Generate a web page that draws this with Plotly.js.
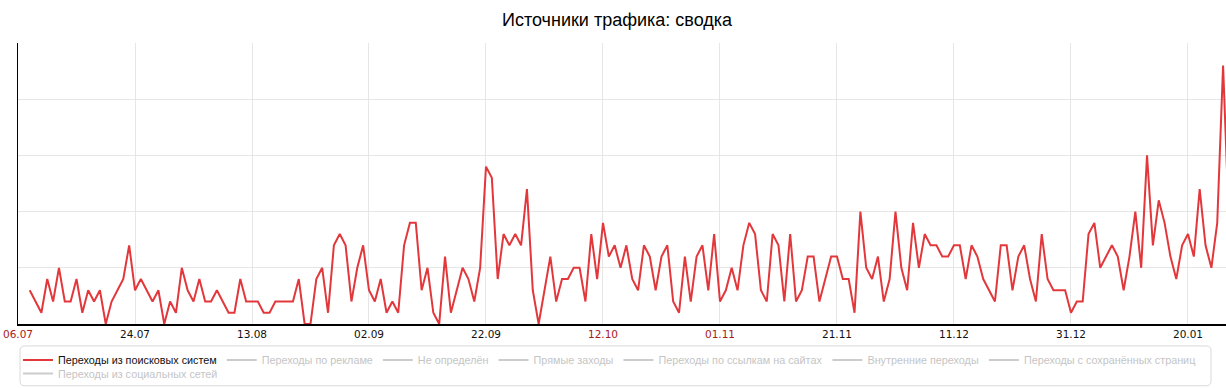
<!DOCTYPE html>
<html>
<head>
<meta charset="utf-8">
<script src="https://cdn.plot.ly/plotly-3.0.1.min.js"></script>
<style>
  html, body { margin: 0; padding: 0; background: #fff; }
  #chart { width: 1226px; height: 388px; }
</style>
</head>
<body>
<div id="chart"></div>
<script>
// ---- Data ----
const firstDay = [2014, 6, 6]; // 06.07.2014 (month is 0-based)

// Daily values of "Переходы из поисковых систем", 06.07.2014 .. 27.01.2015
const searchVisits = [
  3,2,1,4,2,5,2,2,4,1,3,2,3,0,2,3,4,7,3,4,3,2,3,0,2,1,5,3,2,4,2,2,3,2,1,
  1,4,2,2,2,1,1,2,2,2,2,4,0,0,4,5,1,7,8,7,2,5,7,3,2,4,1,2,1,7,9,9,3,5,
  1,0,6,1,3,5,4,2,5,14,13,4,8,7,8,7,12,3,0,3,6,2,4,4,5,5,2,8,4,9,6,7,5,7,
  4,3,7,6,3,6,7,2,1,6,2,6,7,3,8,2,3,5,3,7,9,8,3,2,8,7,2,8,2,3,6,6,2,
  4,6,6,4,4,1,10,5,4,6,2,4,10,5,3,9,5,8,7,7,6,6,7,7,4,7,6,4,3,2,7,7,3,6,
  7,4,2,8,4,3,3,3,1,2,2,8,9,5,6,7,6,3,6,10,5,15,7,11,9,6,4,7,8,6,12,7,5,9,23,9
];

const seriesNames = [
  'Переходы из поисковых систем',
  'Переходы по рекламе',
  'Не определён',
  'Прямые заходы',
  'Переходы по ссылкам на сайтах',
  'Внутренние переходы',
  'Переходы с сохранённых страниц',
  'Переходы из социальных сетей'
];

const tickDates  = ['2014-07-04','2014-07-24','2014-08-13','2014-09-02','2014-09-22','2014-10-12',
                    '2014-11-01','2014-11-21','2014-12-11','2014-12-31','2015-01-20'];
const tickLabels = ['06.07','24.07','13.08','02.09','22.09','12.10','01.11','21.11','11.12','31.12','20.01'];
const weekendLabels = ['06.07','12.10','01.11'];

// ---- Build ----
const W = 1226, H = 388;
const M = { l: 18, r: 0, t: 43, b: 63 };
const plotW = W - M.l - M.r, plotH = H - M.t - M.b;
const pxX = px => (px - M.l) / plotW;          // page px -> paper x
const pxY = py => (H - M.b - py) / plotH;      // page py -> paper y

const dates = searchVisits.map((_, i) => {
  const d = new Date(Date.UTC(firstDay[0], firstDay[1], firstDay[2] + i));
  return d.toISOString().slice(0, 10);
});

const tickText = tickLabels.map(t =>
  weekendLabels.includes(t) ? '<span style="color:#a8201a">' + t + '</span>' : t);

const traces = [{
  type: 'scatter',
  mode: 'lines',
  x: dates,
  y: searchVisits,
  name: '<span style="color:#111">' + seriesNames[0] + '</span>',
  line: { color: '#e2383c', width: 2 },
  legend: 'legend'
}];
// Switched-off series: shown only as greyed legend entries
seriesNames.slice(1).forEach((n, i) => {
  traces.push({
    type: 'scatter',
    mode: 'lines',
    x: [dates[0]], y: [null],
    name: '<span style="color:#8a8a8a">' + n + '</span>',
    line: { color: '#9a9a9a', width: 2 },
    visible: 'legendonly',
    legend: i === seriesNames.length - 2 ? 'legend2' : 'legend'
  });
});

const legendFont = { family: 'Liberation Sans, Arial, sans-serif', size: 10.8, color: '#111' };
const legendBase = {
  orientation: 'h',
  xanchor: 'left',
  yanchor: 'middle',
  borderwidth: 0,
  bgcolor: 'rgba(0,0,0,0)',
  font: legendFont,
  itemwidth: 30,
  tracegroupgap: 0
};

// rounded legend frame
const bx0 = 20, bx1 = 1211, by0 = 347, by1 = 387, rr = 5;
const X = v => pxX(v), Y = v => pxY(v);
const framePath =
  `M${X(bx0 + rr)},${Y(by0)} L${X(bx1 - rr)},${Y(by0)} Q${X(bx1)},${Y(by0)} ${X(bx1)},${Y(by0 + rr)} ` +
  `L${X(bx1)},${Y(by1 - rr)} Q${X(bx1)},${Y(by1)} ${X(bx1 - rr)},${Y(by1)} ` +
  `L${X(bx0 + rr)},${Y(by1)} Q${X(bx0)},${Y(by1)} ${X(bx0)},${Y(by1 - rr)} ` +
  `L${X(bx0)},${Y(by0 + rr)} Q${X(bx0)},${Y(by0)} ${X(bx0 + rr)},${Y(by0)} Z`;

const layout = {
  width: W,
  height: H,
  margin: { l: M.l, r: M.r, t: M.t, b: M.b, pad: 0 },
  paper_bgcolor: '#ffffff',
  plot_bgcolor: '#ffffff',
  title: {
    text: 'Источники трафика: сводка',
    font: { family: 'Liberation Sans, Arial, sans-serif', size: 18, color: '#000' },
    x: 0.5033, xref: 'container', xanchor: 'center',
    y: 0.948, yref: 'container', yanchor: 'middle'
  },
  xaxis: {
    type: 'date',
    range: ['2014-07-04', '2015-01-26 12:00'],
    tickmode: 'array',
    tickvals: tickDates,
    ticktext: tickText,
    showgrid: true,
    gridcolor: '#e6e6e6',
    gridwidth: 1,
    showline: true,
    linecolor: '#000',
    linewidth: 1.5,
    ticks: '',
    tickfont: { family: 'DejaVu Sans, Verdana, sans-serif', size: 10.5, color: '#111' },
    zeroline: false,
    fixedrange: true
  },
  yaxis: {
    range: [0, 25],
    dtick: 5,
    tick0: 0,
    showticklabels: false,
    showgrid: true,
    gridcolor: '#e6e6e6',
    gridwidth: 1,
    showline: true,
    linecolor: '#000',
    linewidth: 1.5,
    ticks: '',
    zeroline: false,
    fixedrange: true
  },
  showlegend: true,
  legend:  Object.assign({}, legendBase, { x: pxX(18), y: pxY(360) }),
  legend2: Object.assign({}, legendBase, { x: pxX(18), y: pxY(375) }),
  shapes: [{
    type: 'path',
    xref: 'paper', yref: 'paper',
    path: framePath,
    line: { color: '#d9d9d9', width: 1 },
    fillcolor: 'rgba(0,0,0,0)',
    layer: 'below'
  }]
};

Plotly.newPlot('chart', traces, layout, { displayModeBar: false, staticPlot: true });
</script>
</body>
</html>
